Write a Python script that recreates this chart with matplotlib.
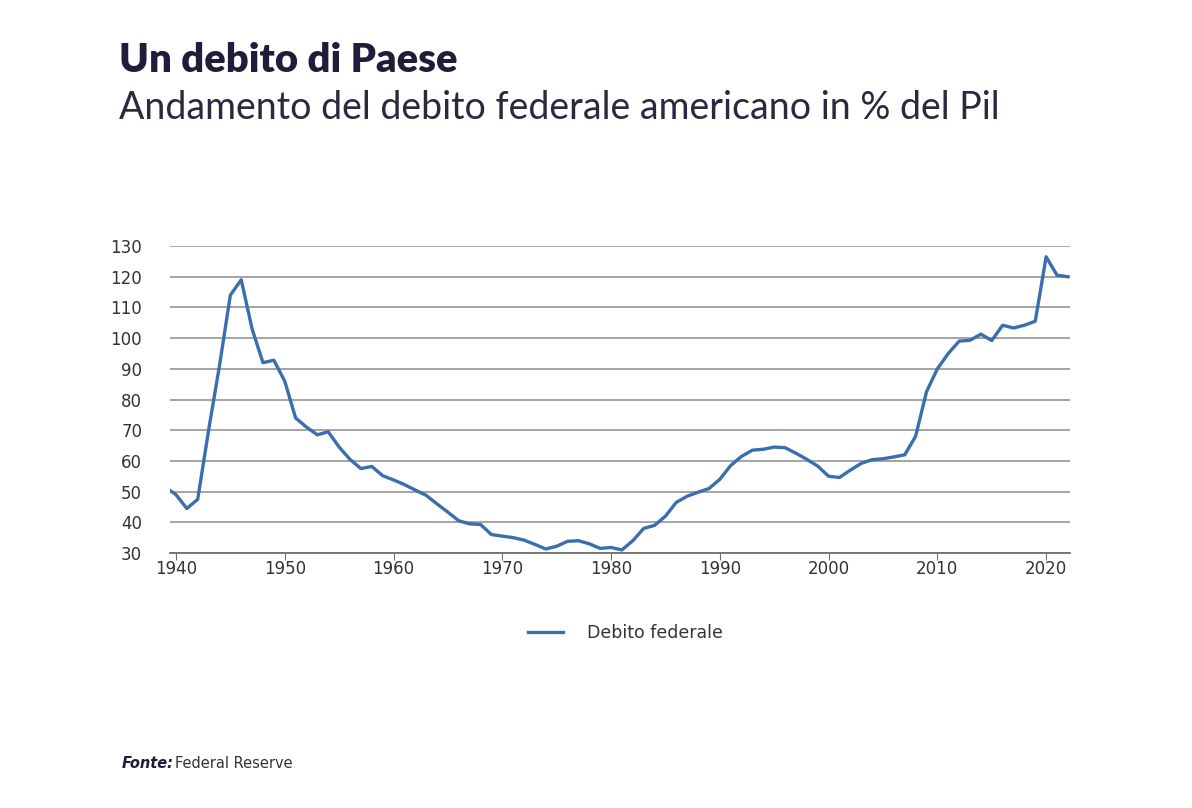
import matplotlib
matplotlib.use("Agg")
from matplotlib import pyplot as plt

# Dati (debito federale USA in % del Pil)
anni = list(range(1939, 2023))
debito = [51.5, 49.0, 44.5, 47.5, 70.0, 91.0, 114.0, 119.0, 103.0, 92.0,
          92.8, 86.0, 74.0, 71.0, 68.5, 69.5, 64.5, 60.5, 57.5, 58.2,
          55.2, 53.8, 52.3, 50.5, 48.8, 46.0, 43.3, 40.5, 39.5, 39.3,
          36.0, 35.5, 35.0, 34.2, 32.8, 31.3, 32.2, 33.8, 34.0, 33.0,
          31.5, 31.8, 31.0, 34.0, 38.0, 39.0, 42.0, 46.5, 48.5, 49.8,
          51.0, 54.0, 58.5, 61.5, 63.5, 63.8, 64.5, 64.3, 62.5, 60.5,
          58.3, 55.0, 54.6, 57.0, 59.2, 60.4, 60.7, 61.3, 62.0, 68.0,
          82.5, 90.0, 95.0, 99.0, 99.3, 101.3, 99.2, 104.2, 103.3, 104.2,
          105.5, 126.5, 120.5, 120.0]
tick_anni = [1940, 1950, 1960, 1970, 1980, 1990, 2000, 2010, 2020]
tick_valori = list(range(30, 140, 10))

titolo = "Un debito di Paese"
sottotitolo = "Andamento del debito federale americano in % del Pil"
serie = "Debito federale"

fig = plt.figure(figsize=(11.92, 8.08), dpi=100)
ax = fig.add_axes([0.1426, 0.3156, 0.7551, 0.3799])

ax.plot(anni, debito, color="#3a6eaf", lw=2.4, label=serie, solid_joinstyle="round")
ax.set_xlim(1939.45, 2022.2)
ax.set_ylim(30, 130)
ax.set_yticks(tick_valori)
ax.set_xticks(tick_anni)
ax.yaxis.grid(True, color="#8c8c8c", lw=1.1)
ax.set_axisbelow(True)
for s in ["top", "right", "left"]:
  ax.spines[s].set_visible(False)
ax.spines["bottom"].set_color("#707070")
ax.spines["bottom"].set_linewidth(1.3)
ax.tick_params(axis="y", length=0, pad=20, labelsize=12, labelcolor="#333333")
ax.tick_params(axis="x", length=5, color="#707070", pad=0, labelsize=12, labelcolor="#333333")

leg = fig.legend(loc="center", bbox_to_anchor=(0.525, 0.2165), frameon=False,
                 fontsize=12.5, handlelength=2.0, handletextpad=1.4)
for t in leg.get_texts():
  t.set_color("#333333")

fig.text(0.1, 0.925, titolo, fontsize=28.8, fontweight="heavy", color="#1f1e3a",
         family="Lato", va="center")
fig.text(0.1, 0.866, sottotitolo, fontsize=27, fontweight="normal", color="#2a2940",
         family="Lato", va="center")
fig.text(0.102, 0.055, "Fonte:", fontsize=10.5, fontweight="bold", style="italic",
         color="#1f1e3a", va="center")
fig.text(0.147, 0.055, "Federal Reserve", fontsize=10.5, color="#333333", va="center")

fig.savefig("out.png", dpi=100)
